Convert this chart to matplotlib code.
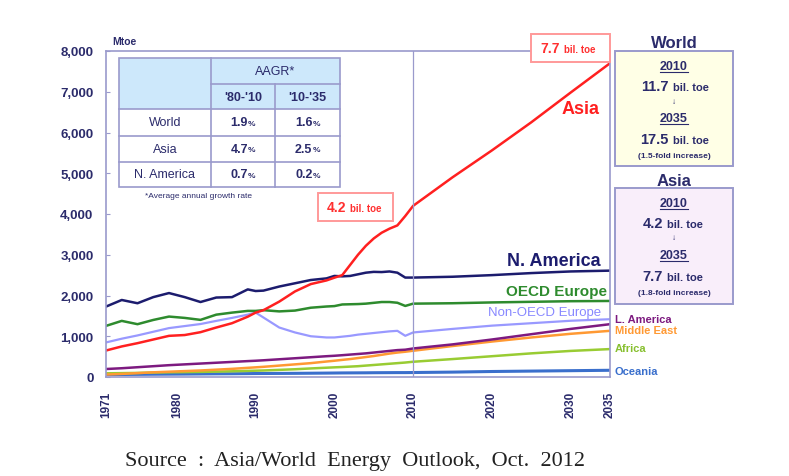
import matplotlib.pyplot as plt
from matplotlib.patches import Rectangle

plt.rcParams['font.family'] = ['Liberation Sans Narrow', 'Liberation Sans', 'DejaVu Sans']

# Data (Mtoe)
years = [1971, 1973, 1975, 1977, 1979, 1981, 1983, 1985, 1987, 1989, 1990, 1991,
         1993, 1995, 1997, 1999, 2000, 2001, 2002, 2003, 2004, 2005, 2006, 2007,
         2008, 2009, 2010, 2015, 2020, 2025, 2030, 2035]
asia = [650, 750, 830, 920, 1010, 1030, 1100, 1214, 1320, 1480, 1580, 1640,
        1850, 2100, 2280, 2370, 2437, 2500, 2750, 3000, 3220, 3400, 3540, 3640,
        3720, 3950, 4200, 4900, 5560, 6250, 6980, 7700]
n_america = [1728, 1890, 1810, 1960, 2060, 1960, 1840, 1950, 1960, 2150, 2110, 2120,
             2220, 2300, 2380, 2420, 2480, 2470, 2480, 2520, 2560, 2580, 2575, 2590,
             2560, 2440, 2440, 2460, 2500, 2550, 2590, 2610]
oecd_europe = [1254, 1377, 1296, 1400, 1483, 1450, 1402, 1530, 1580, 1622, 1622, 1640,
               1610, 1630, 1700, 1730, 1740, 1780, 1785, 1790, 1800, 1820, 1840, 1840,
               1822, 1744, 1800, 1810, 1830, 1845, 1860, 1866]
non_oecd_europe = [848, 940, 1020, 1110, 1200, 1250, 1300, 1377, 1450, 1530, 1581, 1459,
                   1214, 1093, 1000, 970, 970, 990, 1010, 1040, 1060, 1080, 1100, 1120,
                   1133, 1011, 1093, 1180, 1260, 1320, 1380, 1418]
l_america = [196, 215, 240, 265, 290, 310, 330, 350, 370, 390, 399, 410,
             435, 460, 485, 510, 521, 535, 550, 565, 580, 600, 620, 640,
             660, 670, 700, 800, 920, 1050, 1180, 1296]
middle_east = [60, 75, 95, 115, 130, 145, 160, 180, 200, 225, 237, 250,
               280, 310, 340, 380, 399, 420, 440, 465, 490, 515, 545, 575,
               600, 620, 644, 760, 870, 970, 1060, 1133]
africa = [90, 95, 100, 110, 115, 120, 125, 132, 140, 150, 155, 160,
          175, 190, 210, 228, 237, 245, 255, 265, 280, 295, 310, 325,
          340, 355, 374, 440, 510, 580, 640, 685]
oceania = [60, 62, 65, 68, 70, 72, 75, 78, 80, 83, 85, 86,
           88, 90, 93, 96, 98, 100, 101, 102, 103, 105, 106, 107,
           108, 108, 110, 120, 135, 145, 155, 165]

x_ticks = [1971, 1980, 1990, 2000, 2010, 2020, 2030, 2035]
y_ticks = [0, 1000, 2000, 3000, 4000, 5000, 6000, 7000, 8000]

# AAGR table
aagr_regions = ["World", "Asia", "N. America"]
aagr_80_10 = ["1.9", "4.7", "0.7"]
aagr_10_35 = ["1.6", "2.5", "0.2"]

navy = '#2b2b6b'
frame = '#9a9acc'

fig = plt.figure(figsize=(7.89, 4.77), dpi=100)
ax = fig.add_axes([106 / 789, 1 - 378 / 477, (610 - 106) / 789, (378 - 52) / 477])

ax.plot(years, oceania, color='#3a6fcc', lw=2.2)
ax.plot(years, africa, color='#99cc33', lw=1.8)
ax.plot(years, middle_east, color='#ff9933', lw=1.8)
ax.plot(years, l_america, color='#7d1a80', lw=1.8)
ax.plot(years, non_oecd_europe, color='#9999ff', lw=1.6)
ax.plot(years, oecd_europe, color='#2e8b2e', lw=1.8)
ax.plot(years, n_america, color='#1c1c6e', lw=1.8)
ax.plot(years, asia, color='#ff2020', lw=1.8)

ax.axvline(2010, color=frame, lw=0.9)
ax.set_xlim(1971, 2035)
ax.set_ylim(0, 8000)
ax.set_xticks(x_ticks)
ax.set_xticklabels([str(y) for y in x_ticks], rotation=90, fontsize=8.5,
                   fontweight='bold', color=navy)
ax.set_yticks(y_ticks)
ax.set_yticklabels([f"{v:,}" for v in y_ticks], fontsize=9.5, fontweight='bold', color=navy)
ax.tick_params(axis='y', direction='in', length=3, color=frame, pad=9)
ax.tick_params(axis='x', length=0, pad=10)
for s in ax.spines.values():
    s.set_color(frame)
    s.set_linewidth(1.2)

# overlay in pixel coordinates for annotations
ov = fig.add_axes([0, 0, 1, 1], zorder=5)
ov.set_xlim(0, 789)
ov.set_ylim(477, 0)
ov.axis('off')
ov.patch.set_alpha(0)

ov.text(112, 42, "Mtoe", fontsize=7.5, fontweight='bold', color=navy, va='center')

# table
tl, c1, c2, tr = 119, 211, 275, 340
rows_y = [59, 85, 110, 137, 163, 188]
hdr = '#cde8fb'
ov.add_patch(Rectangle((tl, rows_y[0]), tr - tl, rows_y[2] - rows_y[0], fc=hdr, ec='none'))
ov.add_patch(Rectangle((tl, rows_y[0]), tr - tl, rows_y[5] - rows_y[0], fc='none', ec=frame, lw=1.2))
ov.plot([c1, c1], [rows_y[0], rows_y[5]], color=frame, lw=1.2)
ov.plot([c2, c2], [rows_y[1], rows_y[5]], color=frame, lw=1.2)
ov.plot([c1, tr], [rows_y[1], rows_y[1]], color=frame, lw=1.2)
for yy in rows_y[2:5]:
    ov.plot([tl, tr], [yy, yy], color=frame, lw=1.2)
ov.text((c1 + tr) / 2, 72, "AAGR*", fontsize=9, color=navy, ha='center', va='center')
ov.text((c1 + c2) / 2, 98, "'80-'10", fontsize=9, fontweight='bold', color=navy, ha='center', va='center')
ov.text((c2 + tr) / 2, 98, "'10-'35", fontsize=9, fontweight='bold', color=navy, ha='center', va='center')
for i, reg in enumerate(aagr_regions):
    yc = (rows_y[i + 2] + rows_y[i + 3]) / 2
    ov.text((tl + c1) / 2, yc, reg, fontsize=9, color=navy, ha='center', va='center')
    for cx, val in [((c1 + c2) / 2, aagr_80_10[i]), ((c2 + tr) / 2, aagr_10_35[i])]:
        ov.text(cx + 5, yc, val, fontsize=9, fontweight='bold', color=navy, ha='right', va='center')
        ov.text(cx + 5, yc + 1, "%", fontsize=6, fontweight='bold', color=navy, ha='left', va='center')
ov.text(145, 197, "*Average annual growth rate", fontsize=6, color=navy, va='center')

# red value boxes
def red_box(x0, y0, x1, y1, num, split):
    ov.add_patch(Rectangle((x0, y0), x1 - x0, y1 - y0, fc='white', ec='#ff9999', lw=1.4))
    yc = (y0 + y1) / 2
    ov.text(split, yc, num, fontsize=10, fontweight='bold', color='#ff3030', ha='right', va='center')
    ov.text(split + 4, yc + 1, "bil. toe", fontsize=7, fontweight='bold', color='#ff3030', ha='left', va='center')

red_box(318, 194, 393, 222, "4.2", 346)
red_box(531, 35, 610, 63, "7.7", 560)

# series labels
ov.text(600, 110, "Asia", fontsize=13, fontweight='bold', color='#ff2020', ha='right', va='center')
ov.text(601, 262, "N. America", fontsize=13, fontweight='bold', color='#1c1c6e', ha='right', va='center')
ov.text(607, 292, "OECD Europe", fontsize=11, fontweight='bold', color='#2e8b2e', ha='right', va='center')
ov.text(601, 313, "Non-OECD Europe", fontsize=9.5, color='#8888ff', ha='right', va='center')
ov.text(615, 320, "L. America", fontsize=8, fontweight='bold', color='#7d1a80', va='center')
ov.text(615, 331, "Middle East", fontsize=8, fontweight='bold', color='#ff9933', va='center')
ov.text(615, 349, "Africa", fontsize=8, fontweight='bold', color='#88c030', va='center')
ov.text(615, 372, "Oceania", fontsize=8, fontweight='bold', color='#3a6fcc', va='center')

# right summary boxes
def summary(title, ty, y0, y1, fc, v1, v2, fold, split):
    cx = 674
    ov.text(cx, ty, title, fontsize=12, fontweight='bold', color=navy, ha='center', va='center')
    ov.add_patch(Rectangle((615, y0), 118, y1 - y0, fc=fc, ec=frame, lw=1.4))
    for yy, yr in [(y0 + 15, "2010"), (y0 + 67, "2035")]:
        ov.text(cx, yy, yr, fontsize=9, fontweight='bold', color=navy, ha='center', va='center')
        ov.plot([cx - 14, cx + 14], [yy + 6, yy + 6], color=navy, lw=0.8)
    ov.text(cx, y0 + 50, "↓", fontsize=6, color=navy, ha='center', va='center')
    for yy, v in [(y0 + 35, v1), (y0 + 88, v2)]:
        ov.text(split, yy, v, fontsize=10.5, fontweight='bold', color=navy, ha='right', va='center')
        ov.text(split + 4, yy + 1, "bil. toe", fontsize=8, fontweight='bold', color=navy, ha='left', va='center')
    ov.text(cx, y0 + 105, fold, fontsize=6, fontweight='bold', color=navy, ha='center', va='center')

summary("World", 43, 52, 167, '#ffffe6', "11.7", "17.5", "(1.5-fold increase)", 669)
summary("Asia", 182, 189, 305, '#f9eefa', "4.2", "7.7", "(1.8-fold increase)", 663)

fig.text(355 / 789, 1 - 462 / 477, "Source  :  Asia/World  Energy  Outlook,  Oct.  2012",
         fontsize=16, family='Liberation Serif', color='#222222', ha='center', va='center')

fig.savefig("out.png", dpi=100)
